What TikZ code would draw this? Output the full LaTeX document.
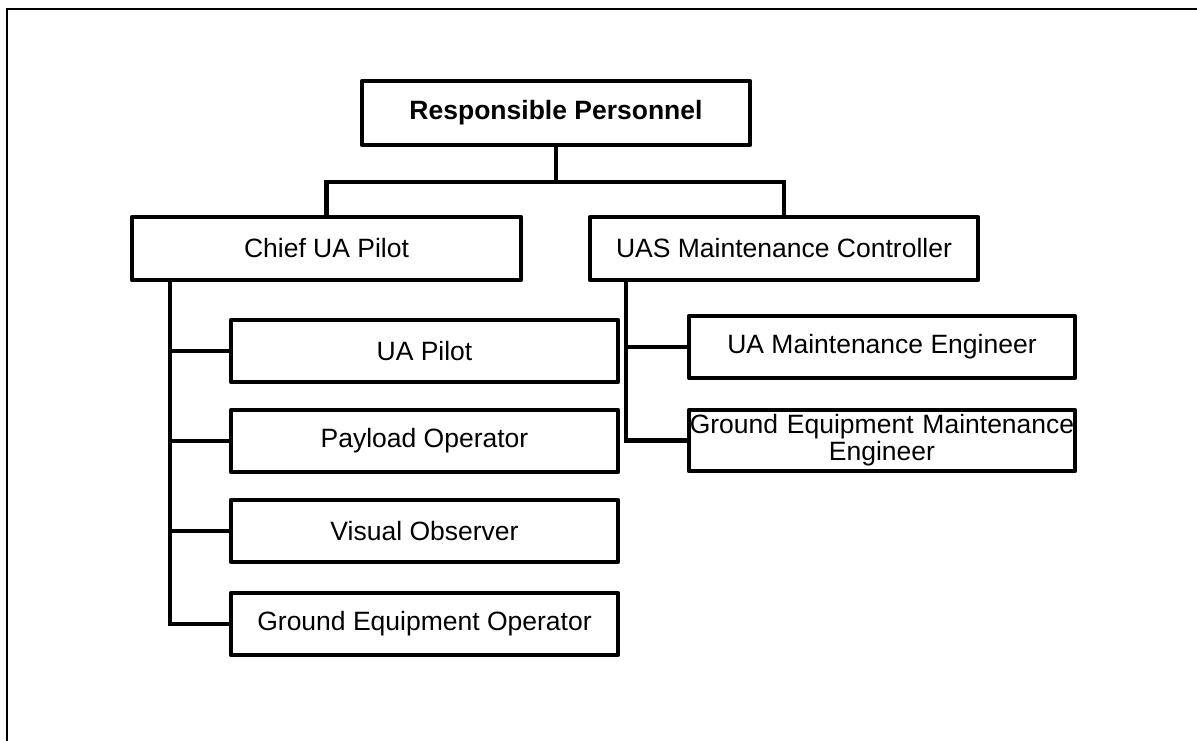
\documentclass[tikz,border=0pt]{standalone}
\usepackage{fontspec}
\setmainfont{Liberation Sans}
\begin{document}
\begin{tikzpicture}[x=1pt,y=-1pt,
  boxstyle/.style={draw=black, line width=4.5pt, line join=round, inner sep=0pt,
    font=\fontsize{26.5}{29}\selectfont, align=center},
  conn/.style={draw=black, line width=4.5pt, line join=miter},
  framestyle/.style={draw=black, line width=2pt}]
\useasboundingbox (0,0) rectangle (1197,740);
\draw[framestyle] (7,741) -- (7,9) -- (1198,9);

\node[boxstyle, minimum width=388pt, minimum height=64pt] (resp) at (556,113) {\textbf{Responsible Personnel}};
\node[boxstyle, minimum width=389pt, minimum height=63pt] (chief) at (326.5,248.5) {Chief UA Pilot};
\node[boxstyle, minimum width=388pt, minimum height=63pt] (uas) at (784,248.5) {UAS Maintenance Controller};

\node[boxstyle, minimum width=387pt, minimum height=62pt] (uap) at (424.5,351) {UA Pilot};
\node[boxstyle, minimum width=387pt, minimum height=62pt] (pay) at (424.5,441) {Payload Operator};
\node[boxstyle, minimum width=387pt, minimum height=62pt] (vis) at (424.5,531) {Visual Observer};
\node[boxstyle, minimum width=387pt, minimum height=62pt] (geop) at (424.5,624) {Ground Equipment Operator};

\node[boxstyle, minimum width=386pt, minimum height=62pt] (uame) at (882,347) {UA Maintenance Engineer};
\node[boxstyle, minimum width=386pt, minimum height=61pt, text width=386pt] (geme) at (882,440.5) {Ground Equipment Maintenance\\[-2pt]Engineer};

% top level connectors
\draw[conn] (resp.south) -- (resp.south |- 0,182);
\draw[conn] (chief.north) -- (chief.north |- 0,182) -| (uas.north);

% chief trunk
\coordinate (ct) at ([xshift=40pt]chief.south west);
\draw[conn] (ct) |- (geop.west);
\draw[conn] (ct |- uap.west) -- (uap.west);
\draw[conn] (ct |- pay.west) -- (pay.west);
\draw[conn] (ct |- vis.west) -- (vis.west);

% uas trunk
\coordinate (ut) at ([xshift=38pt]uas.south west);
\draw[conn] (ut) |- (geme.west);
\draw[conn] (ut |- uame.west) -- (uame.west);
\end{tikzpicture}
\end{document}
